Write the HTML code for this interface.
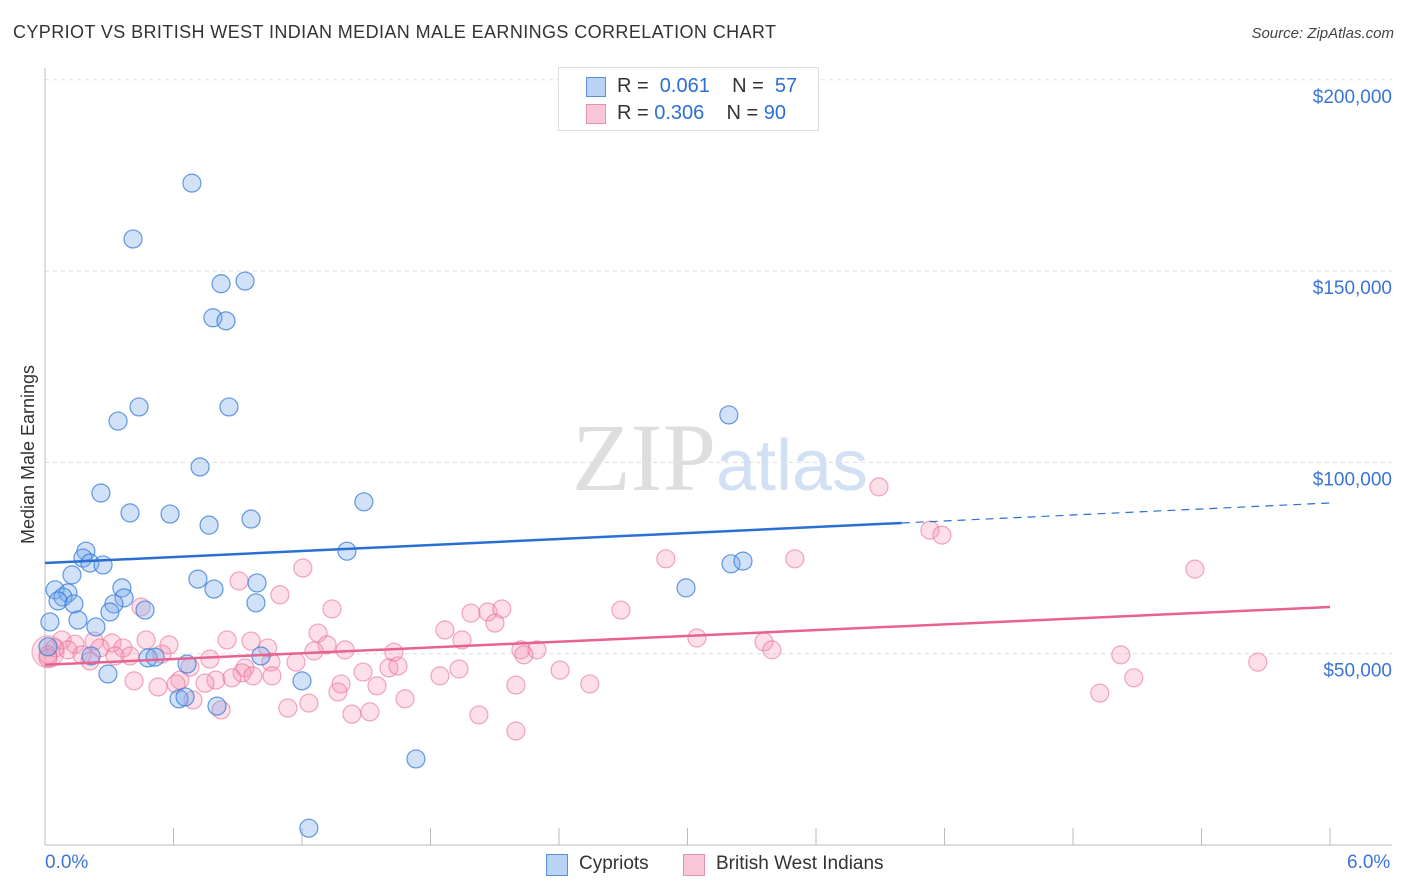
<!DOCTYPE html>
<html><head><meta charset="utf-8">
<style>
body{margin:0;background:#fff;font-family:"Liberation Sans",sans-serif;}
#wrap{position:relative;width:1406px;height:892px;overflow:hidden;}
.t{position:absolute;white-space:nowrap;}
</style></head>
<body>
<div id="wrap">
<div class="t" style="left:13px;top:22px;font-size:18px;color:#333;letter-spacing:0.4px;">CYPRIOT VS BRITISH WEST INDIAN MEDIAN MALE EARNINGS CORRELATION CHART</div>
<div class="t" style="right:12px;top:25px;font-size:15px;color:#444;font-style:italic;">Source: ZipAtlas.com</div>
<div class="t" style="left:-61px;top:444px;font-size:18px;color:#333;transform:rotate(-90deg);">Median Male Earnings</div>
<svg id="svg" width="1406" height="892" style="position:absolute;left:0;top:0"></svg>
</div>
<script>
const blueX=[0.686,0.411,0.822,0.934,0.784,0.845,0.439,0.341,0.859,3.193,0.724,0.261,1.489,0.397,0.584,0.766,0.962,1.410,0.191,0.177,0.210,0.271,0.126,0.714,0.990,0.789,0.359,2.993,3.203,3.259,0.047,0.107,0.084,0.061,0.135,0.369,0.322,0.467,0.303,0.985,0.154,0.023,0.238,0.014,0.215,0.481,0.514,0.663,1.008,0.294,1.200,0.626,0.654,0.803,1.732,1.232];
const blueY=[173.0,158.4,146.7,147.4,137.8,137.0,114.5,110.8,114.5,112.4,98.8,92.0,89.7,86.8,86.5,83.6,85.2,76.8,76.8,75.0,73.7,73.2,70.6,69.5,68.5,66.9,67.2,67.2,73.5,74.2,66.7,65.9,64.8,63.8,63.0,64.6,63.0,61.4,60.9,63.3,58.8,58.3,57.0,51.8,49.4,48.9,49.1,47.3,49.4,44.7,42.9,38.2,38.7,36.3,22.5,4.4];
const pinkX=[3.894,4.132,4.188,5.369,2.899,3.501,1.204,0.906,1.097,1.340,1.989,2.068,2.133,2.689,2.101,0.448,1.275,1.867,1.947,3.044,3.357,3.394,1.317,1.401,1.629,2.222,2.297,2.236,5.023,5.663,1.256,0.850,0.962,1.040,0.472,0.579,0.546,0.313,0.364,0.229,0.140,0.079,0.047,0.014,0.107,0.173,0.257,0.397,0.210,0.327,0.770,0.677,0.934,1.055,1.172,1.060,0.920,1.485,1.606,1.648,1.933,2.405,1.844,0.630,0.798,0.873,0.971,0.416,0.747,1.382,1.550,2.199,2.544,0.528,0.612,1.368,1.681,0.691,0.822,1.134,1.232,1.433,1.517,2.026,2.199,4.925,5.084,0.014];
const pinkY=[93.6,82.3,81.0,72.1,74.8,74.8,72.4,69.0,65.4,61.7,60.6,60.9,61.7,61.4,58.0,62.2,55.4,56.2,53.6,54.1,53.1,51.0,52.3,51.0,50.4,51.0,51.0,49.7,49.7,47.8,50.7,53.6,53.3,51.5,53.6,52.3,49.9,52.8,51.5,53.3,52.5,53.6,51.5,49.7,51.0,49.7,51.5,49.4,48.1,49.4,48.6,46.5,46.3,47.8,47.8,44.2,45.0,45.2,46.3,46.8,46.0,45.7,44.2,43.1,43.1,43.7,44.2,42.9,42.3,42.1,41.6,41.8,42.1,41.3,42.1,40.0,38.2,37.9,35.3,35.8,37.1,34.2,34.8,34.0,29.8,39.7,43.7,48.9];
const yTicks=[50,100,150,200];
const yTickLabels=["$50,000","$100,000","$150,000","$200,000"];
const blueTrend=[73.7,89.4];
const pinkTrend=[47.1,62.2];
const sx=v=>45+v*214.17;
const sy=v=>845-v*3.826;
const svg=document.getElementById('svg');
const NS='http://www.w3.org/2000/svg';
function mk(tag,attrs,name){const e=document.createElementNS(NS,tag);for(const k in attrs)e.setAttribute(k,attrs[k]);


svg.appendChild(e);return e;}
yTicks.forEach((v,i)=>{
 mk('line',{x1:45,x2:1392,y1:sy(v),y2:sy(v),stroke:'#ddd','stroke-dasharray':'4,4'},'gridline');
 const t=mk('text',{x:1392,y:sy(v)+23,'text-anchor':'end','font-size':19,fill:'#3b74d6','font-family':'Liberation Sans'},'y-tick-label');t.textContent=yTickLabels[i];
});
mk('line',{x1:45,x2:45,y1:68,y2:845,stroke:'#bbb'},'y-axis');
mk('line',{x1:45,x2:1392,y1:845,y2:845,stroke:'#bbb'},'x-axis');
for(let i=0;i<=10;i++){mk('line',{x1:sx(i*0.6),x2:sx(i*0.6),y1:828,y2:845,stroke:'#bbb'},'x-tick');}
const wm=mk('text',{x:720,y:490,'text-anchor':'middle','font-size':96,fill:'#dedede','font-family':'Liberation Serif'},'watermark');
wm.innerHTML='ZIP<tspan fill="#d2e0f4" font-family="Liberation Sans" font-size="72">atlas</tspan>';
mk('circle',{cx:sx(0.014),cy:sy(50.5),r:16,fill:'rgba(244,150,180,0.3)',stroke:'rgba(232,110,150,0.5)','stroke-width':1.2},'pink-point-large');
pinkX.forEach((x,i)=>{mk('circle',{cx:sx(x),cy:sy(pinkY[i]),r:9,fill:'rgba(244,150,180,0.3)',stroke:'rgba(232,110,150,0.6)','stroke-width':1.2},'pink-point');});
blueX.forEach((x,i)=>{mk('circle',{cx:sx(x),cy:sy(blueY[i]),r:9,fill:'rgba(120,170,235,0.35)',stroke:'rgba(50,120,215,0.75)','stroke-width':1.2},'blue-point');});
const bxEnd=4.0, byEnd=blueTrend[0]+(blueTrend[1]-blueTrend[0])*bxEnd/6;
mk('line',{x1:sx(0),y1:sy(blueTrend[0]),x2:sx(bxEnd),y2:sy(byEnd),stroke:'#2a6fd4','stroke-width':2.5},'blue-trend-line');
mk('line',{x1:sx(bxEnd),y1:sy(byEnd),x2:sx(6),y2:sy(blueTrend[1]),stroke:'#2a6fd4','stroke-width':1.2,'stroke-dasharray':'8,6'},'blue-trend-dashed');
mk('line',{x1:sx(0),y1:sy(pinkTrend[0]),x2:sx(6),y2:sy(pinkTrend[1]),stroke:'#e8628f','stroke-width':2.5},'pink-trend-line');
</script>
<div class="t" style="left:45px;top:852px;font-size:19px;color:#3b74d6;">0.0%</div>
<div class="t" style="left:1347px;top:852px;font-size:19px;color:#3b74d6;">6.0%</div>
<div style="position:absolute;left:558px;top:67px;width:259px;height:62px;border:1px solid #ddd;background:#fff;font-size:20px;color:#333;">
 <div style="position:absolute;left:27px;top:9px;width:18px;height:18px;background:#b9d3f5;border:1px solid #5b8fd8;"></div>
 <div class="t" style="left:58px;top:7px;">R = &nbsp;<span style="color:#2a6fd4">0.061</span>&nbsp;&nbsp;&nbsp; N = &nbsp;<span style="color:#2a6fd4">57</span></div>
 <div style="position:absolute;left:27px;top:36px;width:18px;height:18px;background:#f8c6d6;border:1px solid #e890ad;"></div>
 <div class="t" style="left:58px;top:34px;">R = <span style="color:#2a6fd4">0.306</span>&nbsp;&nbsp;&nbsp; N = <span style="color:#2a6fd4">90</span></div>
</div>
<div style="position:absolute;left:546px;top:852px;font-size:19px;color:#333;">
 <div style="position:absolute;left:0;top:2px;width:20px;height:20px;background:#b9d3f5;border:1px solid #5b8fd8;"></div>
 <div class="t" style="left:33px;top:1px;">Cypriots</div>
 <div style="position:absolute;left:137px;top:2px;width:20px;height:20px;background:#f8c6d6;border:1px solid #e890ad;"></div>
 <div class="t" style="left:170px;top:1px;">British West Indians</div>
</div>
</body></html>
